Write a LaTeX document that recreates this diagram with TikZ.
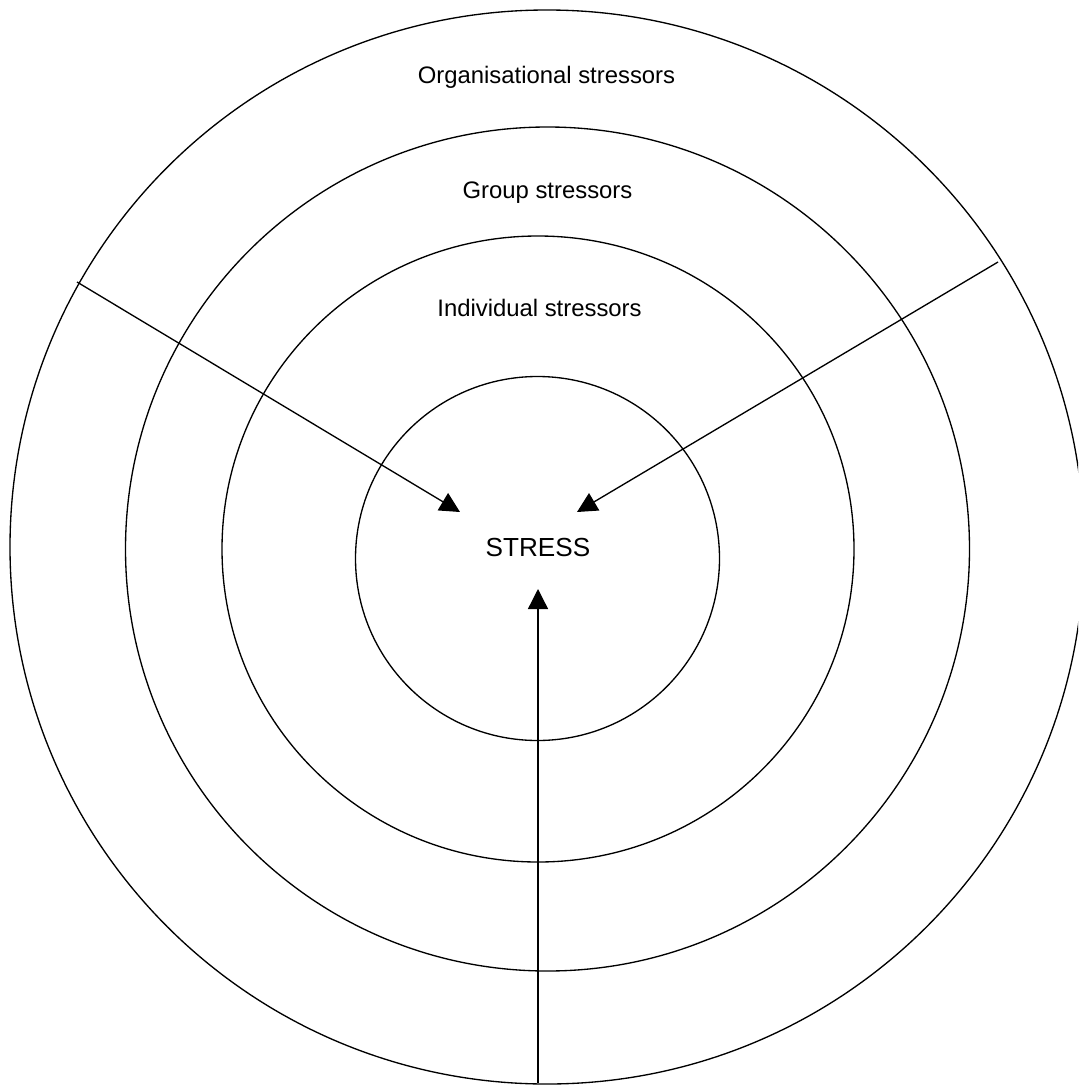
\documentclass[tikz,border=0pt]{standalone}
\usepackage{fontspec}
\setmainfont{Liberation Sans}
\usetikzlibrary{arrows.meta}
\begin{document}
\begin{tikzpicture}[x=0.75pt,y=-0.75pt,
  ring/.style={draw=black,line width=1pt},
  ringlabel/.style={anchor=base,inner sep=0pt,font=\fontsize{17.9}{21}\selectfont},
  corelabel/.style={anchor=base,inner sep=0pt,font=\fontsize{19.6}{23}\selectfont},
  flow/.style={draw=black,line width=1pt,-{Triangle[length=15pt,width=15pt]}}]
\useasboundingbox (0,0) rectangle (1078,1085);
\fill[white] (0,0) rectangle (1078,1085);
\clip (0,0) rectangle (1078,1085);

% concentric rings of stressors
\draw[ring] (547,547) circle[radius=537];
\draw[ring] (547.5,549) circle[radius=422];
\draw[ring] (538,549) circle[x radius=316,y radius=313];
\draw[ring] (537.5,558.5) circle[radius=182];

% ring labels
\node[ringlabel] (org) at (546.5,83) {Organisational stressors};
\node[ringlabel] (grp) at (547.5,198) {Group stressors};
\node[ringlabel] (ind) at (539.5,316) {Individual stressors};
\node[corelabel] (stress) at (538,556) {STRESS};

% arrow end points
\coordinate (lsrc) at (77,282);
\coordinate (ltip) at (460,512);
\coordinate (rsrc) at (998,262);
\coordinate (rtip) at (577,512);
\coordinate (bsrc) at (538,1083);
\coordinate (btip) at (538,589);

\draw[flow] (lsrc) -- (ltip);
\draw[flow] (rsrc) -- (rtip);
\draw[flow] (bsrc) -- (btip);
\end{tikzpicture}
\end{document}
